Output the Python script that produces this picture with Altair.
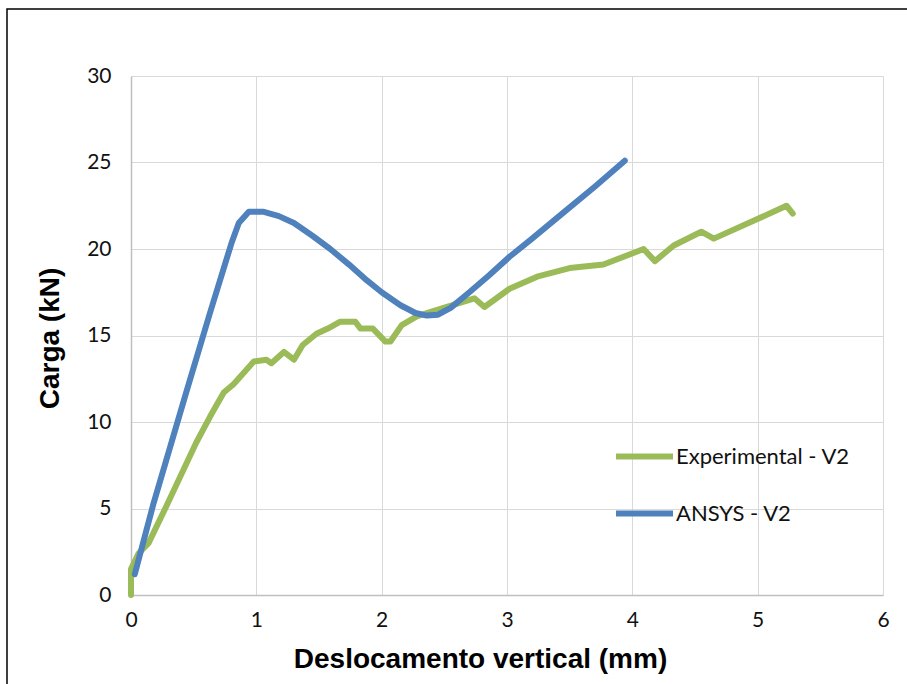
import altair as alt
import pandas as pd

# Load–displacement curves for beam V2
exp_x = [0.00, 0.00, 0.06, 0.14, 0.28, 0.52, 0.63, 0.74, 0.82, 0.98, 1.08, 1.12,
         1.22, 1.30, 1.37, 1.48, 1.57, 1.67, 1.79, 1.83, 1.93, 2.03, 2.07, 2.16,
         2.28, 2.36, 2.52, 2.74, 2.82, 3.02, 3.24, 3.50, 3.77, 4.09, 4.18, 4.33,
         4.55, 4.65, 5.02, 5.23, 5.28]
exp_y = [0.0, 1.5, 2.4, 3.0, 5.1, 8.8, 10.3, 11.7, 12.2, 13.5, 13.6, 13.4,
         14.05, 13.6, 14.45, 15.1, 15.4, 15.8, 15.8, 15.4, 15.4, 14.65, 14.65, 15.6,
         16.1, 16.3, 16.65, 17.15, 16.65, 17.7, 18.4, 18.9, 19.1, 20.0, 19.3, 20.2,
         21.0, 20.6, 21.8, 22.5, 22.05]

ansys_x = [0.03, 0.18, 0.44, 0.63, 0.80, 0.86, 0.94, 1.06, 1.18, 1.30, 1.45, 1.59,
           1.74, 1.88, 2.00, 2.15, 2.27, 2.36, 2.45, 2.55, 2.70, 2.86, 3.02, 3.20,
           3.45, 3.70, 3.94]
ansys_y = [1.2, 5.3, 11.7, 16.3, 20.3, 21.5, 22.15, 22.15, 21.9, 21.5, 20.75, 20.0,
           19.1, 18.2, 17.5, 16.75, 16.3, 16.15, 16.2, 16.6, 17.5, 18.5, 19.55, 20.6,
           22.1, 23.6, 25.1]

series = ["Experimental - V2", "ANSYS - V2"]
colors = ["#9BBB59", "#4F81BD"]

x_ticks = [0, 1, 2, 3, 4, 5, 6]
y_ticks = [0, 5, 10, 15, 20, 25, 30]

df = pd.concat([
    pd.DataFrame({"x": exp_x, "y": exp_y, "serie": series[0]}),
    pd.DataFrame({"x": ansys_x, "y": ansys_y, "serie": series[1]}),
], ignore_index=True)
df["ordem"] = range(len(df))

LABEL_FONT = "Lato"
TITLE_FONT = "Liberation Sans"

x_axis = alt.Axis(
    values=x_ticks, grid=True, gridColor="#d9d9d9", gridWidth=1,
    domainColor="#bfbfbf", domainWidth=1.5, ticks=False,
    labelFont=LABEL_FONT, labelFontSize=21, labelColor="#111111", labelPadding=14,
    labelFlush=False, labelOverlap=False, labelBound=False,
    title="Deslocamento vertical (mm)", titleFont=TITLE_FONT, titleFontSize=28,
    titleFontWeight="bold", titleColor="#000000", titleX=349, titleY=72,
    titleAlign="center", titleBaseline="alphabetic",
)
y_axis = alt.Axis(
    values=y_ticks, grid=True, gridColor="#d9d9d9", gridWidth=1,
    domainColor="#bfbfbf", domainWidth=1.5, ticks=False,
    labelFont=LABEL_FONT, labelFontSize=21, labelColor="#111111", labelPadding=20,
    labelFlush=False, labelOverlap=False, labelBound=False,
    title="Carga (kN)", titleFont=TITLE_FONT, titleFontSize=28,
    titleFontWeight="bold", titleColor="#000000", titleAngle=270,
    titleX=-73, titleY=262, titleAlign="center", titleBaseline="alphabetic",
)

legend = alt.Legend(
    orient="none", legendX=482, legendY=349, padding=0,
    symbolType="stroke", symbolSize=3249, symbolStrokeWidth=6,
    labelFont=LABEL_FONT, labelFontSize=22, labelColor="#111111",
    labelOffset=0, labelLimit=0, rowPadding=13,
)

base = alt.Chart(df).mark_line(strokeWidth=6, strokeCap="round", strokeJoin="round").encode(
    x=alt.X("x:Q", scale=alt.Scale(domain=[0, 6], nice=False), axis=x_axis),
    y=alt.Y("y:Q", scale=alt.Scale(domain=[0, 30], nice=False), axis=y_axis),
    color=alt.Color("serie:N", scale=alt.Scale(domain=series, range=colors),
                    legend=legend, title=None),
    order=alt.Order("ordem:Q"),
)

exp_layer = base.transform_filter(alt.datum.serie == series[0])
ansys_layer = base.transform_filter(alt.datum.serie == series[1])

# Outer border around the whole figure
frame = alt.Chart(pd.DataFrame({"k": [0]})).mark_rect(
    fill="white", fillOpacity=0, stroke="black", strokeWidth=1.5
).encode(
    x=alt.value(7 - 131), x2=alt.value(960 - 131),
    y=alt.value(9 - 76), y2=alt.value(740 - 76),
)

chart = alt.layer(exp_layer, ansys_layer, frame).properties(
    width=752, height=519,
    autosize=alt.AutoSizeParams(type="none"),
    padding={"left": 131, "top": 76, "right": 24, "bottom": 89},
    background="white",
).configure_view(stroke=None)

chart.save("out.html", embed_options={"renderer": "svg", "actions": False})
